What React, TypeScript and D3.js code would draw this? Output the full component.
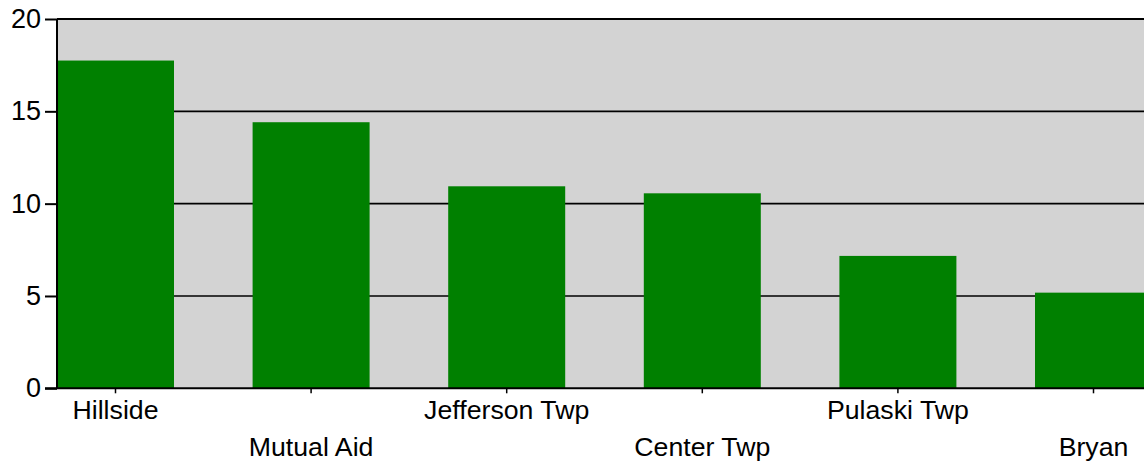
import * as d3 from 'd3'
import { useEffect, useRef } from 'react';

const categories = [ "Hillside", "Mutual Aid", "Jefferson Twp", "Center Twp", "Pulaski Twp", "Bryan" ];
const values = [ 17.75, 14.41, 10.94, 10.56, 7.17, 5.18 ];
const yTicks = [ 0, 5, 10, 15, 20 ];

function drawChart( svgEl: SVGSVGElement ) {
    const svg = d3.select( svgEl );
    svg.selectAll( "*" ).remove();

    const left = 57, top = 19, bottom = 388.3;
    const step = 195.6, bandW = 117;
    const right = left + step * ( categories.length - 1 ) + bandW;
    const font = "Liberation Sans, Arial, sans-serif";

    const scX = d3.scaleBand<string>()
        .domain( categories ).range( [left, right] )
        .paddingInner( 1 - bandW / step ).paddingOuter( 0 );
    const scY = d3.scaleLinear().domain( [0, 20] ).range( [bottom, top] );

    // plot background
    svg.append( "rect" )
        .attr( "x", left ).attr( "y", top )
        .attr( "width", right - left ).attr( "height", bottom - top )
        .attr( "fill", "#d3d3d3" );

    // grid lines
    svg.append( "g" ).selectAll( "line" ).data( yTicks.filter( t => t > 0 ) ).enter().append( "line" )
        .attr( "x1", left ).attr( "x2", right )
        .attr( "y1", d => scY( d ) ).attr( "y2", d => scY( d ) )
        .attr( "stroke", "#000" ).attr( "stroke-width", 1.6 );

    // bars
    svg.append( "g" ).selectAll( "rect" ).data( values ).enter().append( "rect" )
        .attr( "x", (d, i) => scX( categories[i] )! )
        .attr( "y", d => scY( d ) )
        .attr( "width", scX.bandwidth() )
        .attr( "height", d => scY( 0 ) - scY( d ) )
        .attr( "fill", "#008000" );

    // y axis
    const yAxis = svg.append( "g" )
        .attr( "transform", "translate(" + left + ",0)" )
        .call( d3.axisLeft( scY ).tickValues( yTicks ).tickSize( 12 ).tickPadding( 4 ) );
    yAxis.select( ".domain" ).attr( "stroke-width", 2 ).attr( "d", "M0," + top + "V" + bottom );
    yAxis.selectAll( ".tick line" ).attr( "stroke-width", 2 );
    yAxis.selectAll( "text" )
        .attr( "font-family", font )
        .attr( "font-size", 27 ).attr( "fill", "#000" );

    // x axis
    const xAxis = svg.append( "g" )
        .attr( "transform", "translate(0," + bottom + ")" )
        .call( d3.axisBottom( scX ).tickSize( 5 ).tickSizeOuter( 0 ) );
    xAxis.select( ".domain" ).attr( "stroke-width", 2 ).attr( "d", "M" + ( left - 12 ) + ",0H" + right );
    xAxis.selectAll( ".tick line" ).attr( "stroke-width", 1.5 );
    xAxis.selectAll( "text" )
        .attr( "font-family", font )
        .attr( "font-size", 26.7 ).attr( "fill", "#000" )
        .attr( "dy", 0 )
        .attr( "y", (d, i) => i % 2 === 0 ? 31 : 68 );

    // top border
    svg.append( "line" )
        .attr( "x1", left ).attr( "x2", right )
        .attr( "y1", top ).attr( "y2", top )
        .attr( "stroke", "#000" ).attr( "stroke-width", 2 );
}

function App() {
    const ref = useRef<SVGSVGElement>( null );
    useEffect( () => {
        if ( ref.current ) drawChart( ref.current );
    } );

    return (
        <svg ref={ref} width="1144" height="464"
             style={{ position: "absolute", left: 0, top: 0, background: "#fff", display: "block" }}>
        </svg>
    );
}

export default App;
